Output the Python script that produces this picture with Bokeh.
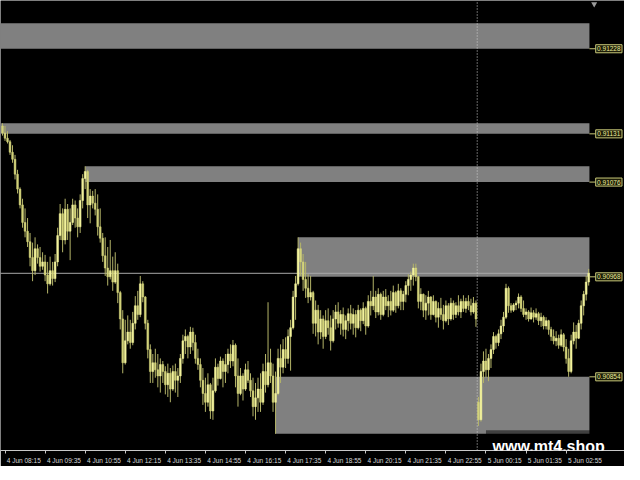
from datetime import datetime
import numpy as np
from bokeh.plotting import figure
from bokeh.models import Range1d, FixedTicker, Label, ColumnDataSource
from bokeh.core.properties import value
from bokeh.embed import file_html
from bokeh.resources import INLINE

# ---------------- data (M5 quotes) ----------------
first_bar = "4 Jun 08:10"
bar_minutes = 5

opens = [
    0.91140, 0.91132, 0.91126, 0.91122, 0.91110, 0.91102, 0.91085, 0.91068, 0.91050, 0.91030,
    0.91020, 0.91008, 0.90990, 0.90975, 0.91000, 0.90990, 0.90980, 0.90985, 0.90970, 0.90960,
    0.90975, 0.90966, 0.90985, 0.91015, 0.91040, 0.91010, 0.91045, 0.91020, 0.91030, 0.91050,
    0.91035, 0.91025, 0.91055, 0.91080, 0.91088, 0.91050, 0.91060, 0.91052, 0.91045, 0.91025,
    0.91012, 0.90992, 0.90978, 0.90968, 0.90975, 0.90962, 0.90975, 0.90950, 0.90920, 0.90870,
    0.90895, 0.90905, 0.90893, 0.90915, 0.90935, 0.90925, 0.90960, 0.90945, 0.90915, 0.90885,
    0.90860, 0.90870, 0.90862, 0.90855, 0.90868, 0.90860, 0.90845, 0.90858, 0.90840, 0.90860,
    0.90850, 0.90855, 0.90875, 0.90895, 0.90900, 0.90888, 0.90905, 0.90893, 0.90875, 0.90868,
    0.90850, 0.90835, 0.90825, 0.90845, 0.90815, 0.90838, 0.90865, 0.90852, 0.90872, 0.90860,
    0.90868, 0.90880, 0.90872, 0.90890, 0.90855, 0.90835, 0.90855, 0.90840, 0.90862, 0.90850,
    0.90838, 0.90820, 0.90830, 0.90840, 0.90825, 0.90860, 0.90845, 0.90870, 0.90855, 0.90825,
    0.90835, 0.90875, 0.90865, 0.90885, 0.90875, 0.90900, 0.90910, 0.90945, 0.90960, 0.91000,
    0.90985, 0.90965, 0.90955, 0.90945, 0.90950, 0.90915, 0.90930, 0.90905, 0.90920, 0.90900,
    0.90918, 0.90910, 0.90895, 0.90920, 0.90928, 0.90915, 0.90925, 0.90908, 0.90918, 0.90926,
    0.90915, 0.90925, 0.90910, 0.90930, 0.90918, 0.90932, 0.90912, 0.90940, 0.90935, 0.90945,
    0.90928, 0.90948, 0.90925, 0.90945, 0.90935, 0.90940, 0.90930, 0.90950, 0.90935, 0.90952,
    0.90940, 0.90948, 0.90958, 0.90965, 0.90970, 0.90978, 0.90968, 0.90940, 0.90948, 0.90930,
    0.90938, 0.90945, 0.90925, 0.90940, 0.90922, 0.90932, 0.90925, 0.90918, 0.90935, 0.90920,
    0.90938, 0.90925, 0.90935, 0.90928, 0.90940, 0.90932, 0.90940, 0.90935, 0.90928, 0.90938,
    0.90825, 0.90805, 0.90860, 0.90872, 0.90862, 0.90875, 0.90885, 0.90900, 0.90893, 0.90903,
    0.90912, 0.90922, 0.90955, 0.90935, 0.90930, 0.90936, 0.90938, 0.90945, 0.90932, 0.90925,
    0.90928, 0.90920, 0.90927, 0.90922, 0.90926, 0.90918, 0.90922, 0.90912, 0.90918, 0.90908,
    0.90900, 0.90895, 0.90898, 0.90890, 0.90902, 0.90888, 0.90875, 0.90860, 0.90895, 0.90905,
    0.90898, 0.90915, 0.90935, 0.90948, 0.90962,
]

highs = [
    0.91143, 0.91140, 0.91134, 0.91124, 0.91118, 0.91107, 0.91090, 0.91070, 0.91057, 0.91046,
    0.91035, 0.91018, 0.91007, 0.91013, 0.91005, 0.91002, 0.90996, 0.90993, 0.90985, 0.90991,
    0.90985, 0.90994, 0.91024, 0.91051, 0.91046, 0.91057, 0.91051, 0.91046, 0.91057, 0.91055,
    0.91046, 0.91062, 0.91085, 0.91094, 0.91090, 0.91068, 0.91066, 0.91068, 0.91062, 0.91046,
    0.91018, 0.91013, 0.91002, 0.91010, 0.90991, 0.90996, 0.90983, 0.90952, 0.90930, 0.90919,
    0.90924, 0.90919, 0.90928, 0.90946, 0.90952, 0.90969, 0.90963, 0.90946, 0.90919, 0.90891,
    0.90880, 0.90886, 0.90880, 0.90875, 0.90872, 0.90866, 0.90869, 0.90864, 0.90867, 0.90869,
    0.90864, 0.90880, 0.90902, 0.90908, 0.90902, 0.90911, 0.90910, 0.90902, 0.90886, 0.90875,
    0.90864, 0.90853, 0.90858, 0.90847, 0.90853, 0.90875, 0.90869, 0.90877, 0.90875, 0.90880,
    0.90886, 0.90891, 0.90896, 0.90892, 0.90875, 0.90864, 0.90858, 0.90869, 0.90872, 0.90858,
    0.90853, 0.90847, 0.90853, 0.90858, 0.90869, 0.90880, 0.90939, 0.90886, 0.90869, 0.90860,
    0.90886, 0.90891, 0.90897, 0.90899, 0.90908, 0.90919, 0.90952, 0.90969, 0.91013, 0.91007,
    0.90994, 0.90985, 0.90971, 0.90969, 0.90952, 0.90941, 0.90936, 0.90930, 0.90924, 0.90930,
    0.90932, 0.90924, 0.90930, 0.90936, 0.90939, 0.90930, 0.90933, 0.90924, 0.90932, 0.90936,
    0.90932, 0.90930, 0.90936, 0.90932, 0.90939, 0.90934, 0.90947, 0.90952, 0.90969, 0.90952,
    0.90955, 0.90950, 0.90952, 0.90954, 0.90947, 0.90952, 0.90958, 0.90952, 0.90960, 0.90955,
    0.90952, 0.90963, 0.90971, 0.90974, 0.90983, 0.90983, 0.90969, 0.90955, 0.90949, 0.90947,
    0.90952, 0.90946, 0.90947, 0.90941, 0.90939, 0.90944, 0.90936, 0.90941, 0.90938, 0.90944,
    0.90941, 0.90939, 0.90947, 0.90943, 0.90947, 0.90944, 0.90947, 0.90943, 0.90945, 0.90941,
    0.90831, 0.90869, 0.90883, 0.90886, 0.90880, 0.90891, 0.90905, 0.90902, 0.90908, 0.90919,
    0.90928, 0.90960, 0.90957, 0.90938, 0.90938, 0.90941, 0.90949, 0.90947, 0.90941, 0.90932,
    0.90930, 0.90933, 0.90930, 0.90932, 0.90928, 0.90927, 0.90924, 0.90922, 0.90919, 0.90911,
    0.90908, 0.90906, 0.90902, 0.90908, 0.90904, 0.90897, 0.90886, 0.90902, 0.90916, 0.90913,
    0.90919, 0.90941, 0.90952, 0.90969, 0.90977,
]

lows = [
    0.91129, 0.91123, 0.91120, 0.91107, 0.91098, 0.91079, 0.91063, 0.91046, 0.91024, 0.91013,
    0.91002, 0.90980, 0.90963, 0.90970, 0.90983, 0.90974, 0.90976, 0.90963, 0.90949, 0.90958,
    0.90958, 0.90962, 0.90980, 0.91010, 0.90996, 0.91005, 0.91010, 0.90987, 0.91027, 0.91024,
    0.91013, 0.91018, 0.91046, 0.91068, 0.91035, 0.91029, 0.91046, 0.91038, 0.91015, 0.91007,
    0.90985, 0.90969, 0.90958, 0.90965, 0.90952, 0.90960, 0.90938, 0.90908, 0.90858, 0.90868,
    0.90891, 0.90886, 0.90890, 0.90908, 0.90919, 0.90922, 0.90939, 0.90908, 0.90875, 0.90847,
    0.90847, 0.90853, 0.90842, 0.90836, 0.90847, 0.90834, 0.90831, 0.90825, 0.90838, 0.90836,
    0.90831, 0.90847, 0.90869, 0.90880, 0.90875, 0.90880, 0.90884, 0.90869, 0.90862, 0.90842,
    0.90822, 0.90814, 0.90820, 0.90806, 0.90805, 0.90836, 0.90844, 0.90851, 0.90842, 0.90847,
    0.90858, 0.90864, 0.90866, 0.90842, 0.90820, 0.90833, 0.90827, 0.90838, 0.90847, 0.90831,
    0.90809, 0.90805, 0.90814, 0.90814, 0.90822, 0.90836, 0.90842, 0.90847, 0.90814, 0.90789,
    0.90833, 0.90847, 0.90858, 0.90864, 0.90869, 0.90861, 0.90908, 0.90919, 0.90958, 0.90969,
    0.90952, 0.90944, 0.90938, 0.90941, 0.90903, 0.90900, 0.90891, 0.90897, 0.90886, 0.90897,
    0.90902, 0.90884, 0.90893, 0.90908, 0.90910, 0.90902, 0.90900, 0.90897, 0.90906, 0.90908,
    0.90902, 0.90899, 0.90908, 0.90906, 0.90914, 0.90902, 0.90910, 0.90924, 0.90930, 0.90921,
    0.90924, 0.90919, 0.90923, 0.90930, 0.90922, 0.90924, 0.90928, 0.90927, 0.90932, 0.90930,
    0.90930, 0.90939, 0.90947, 0.90952, 0.90958, 0.90963, 0.90932, 0.90930, 0.90922, 0.90919,
    0.90924, 0.90919, 0.90924, 0.90916, 0.90910, 0.90919, 0.90908, 0.90916, 0.90913, 0.90918,
    0.90919, 0.90921, 0.90924, 0.90921, 0.90928, 0.90927, 0.90930, 0.90924, 0.90926, 0.90911,
    0.90798, 0.90803, 0.90847, 0.90853, 0.90849, 0.90864, 0.90880, 0.90886, 0.90889, 0.90897,
    0.90905, 0.90920, 0.90927, 0.90927, 0.90928, 0.90930, 0.90932, 0.90928, 0.90922, 0.90919,
    0.90917, 0.90919, 0.90916, 0.90919, 0.90913, 0.90911, 0.90908, 0.90908, 0.90902, 0.90895,
    0.90891, 0.90889, 0.90886, 0.90888, 0.90883, 0.90869, 0.90854, 0.90858, 0.90891, 0.90886,
    0.90897, 0.90908, 0.90924, 0.90941, 0.90958,
]

closes = [
    0.91132, 0.91126, 0.91122, 0.91110, 0.91102, 0.91085, 0.91068, 0.91050, 0.91030, 0.91020,
    0.91008, 0.90990, 0.90975, 0.91000, 0.90990, 0.90980, 0.90985, 0.90970, 0.90960, 0.90975,
    0.90966, 0.90985, 0.91015, 0.91040, 0.91010, 0.91045, 0.91020, 0.91030, 0.91050, 0.91035,
    0.91025, 0.91055, 0.91080, 0.91088, 0.91050, 0.91060, 0.91052, 0.91045, 0.91025, 0.91012,
    0.90992, 0.90978, 0.90968, 0.90975, 0.90962, 0.90975, 0.90950, 0.90920, 0.90870, 0.90895,
    0.90905, 0.90893, 0.90915, 0.90935, 0.90925, 0.90960, 0.90945, 0.90915, 0.90885, 0.90860,
    0.90870, 0.90862, 0.90855, 0.90868, 0.90860, 0.90845, 0.90858, 0.90840, 0.90860, 0.90850,
    0.90855, 0.90875, 0.90895, 0.90900, 0.90888, 0.90905, 0.90893, 0.90875, 0.90868, 0.90850,
    0.90835, 0.90825, 0.90845, 0.90815, 0.90838, 0.90865, 0.90852, 0.90872, 0.90860, 0.90868,
    0.90880, 0.90872, 0.90890, 0.90855, 0.90835, 0.90855, 0.90840, 0.90862, 0.90850, 0.90838,
    0.90820, 0.90830, 0.90840, 0.90825, 0.90860, 0.90845, 0.90870, 0.90855, 0.90825, 0.90835,
    0.90875, 0.90865, 0.90885, 0.90875, 0.90900, 0.90910, 0.90945, 0.90960, 0.91000, 0.90985,
    0.90965, 0.90955, 0.90945, 0.90950, 0.90915, 0.90930, 0.90905, 0.90920, 0.90900, 0.90918,
    0.90910, 0.90895, 0.90920, 0.90928, 0.90915, 0.90925, 0.90908, 0.90918, 0.90926, 0.90915,
    0.90925, 0.90910, 0.90930, 0.90918, 0.90932, 0.90912, 0.90940, 0.90935, 0.90945, 0.90928,
    0.90948, 0.90925, 0.90945, 0.90935, 0.90940, 0.90930, 0.90950, 0.90935, 0.90952, 0.90940,
    0.90948, 0.90958, 0.90965, 0.90970, 0.90978, 0.90968, 0.90940, 0.90948, 0.90930, 0.90938,
    0.90945, 0.90925, 0.90940, 0.90922, 0.90932, 0.90925, 0.90918, 0.90935, 0.90920, 0.90938,
    0.90925, 0.90935, 0.90928, 0.90940, 0.90932, 0.90940, 0.90935, 0.90928, 0.90938, 0.90920,
    0.90805, 0.90860, 0.90872, 0.90862, 0.90875, 0.90885, 0.90900, 0.90893, 0.90903, 0.90912,
    0.90922, 0.90955, 0.90935, 0.90930, 0.90936, 0.90938, 0.90945, 0.90932, 0.90925, 0.90928,
    0.90920, 0.90927, 0.90922, 0.90926, 0.90918, 0.90922, 0.90912, 0.90918, 0.90908, 0.90900,
    0.90895, 0.90898, 0.90890, 0.90902, 0.90888, 0.90875, 0.90860, 0.90895, 0.90905, 0.90898,
    0.90915, 0.90935, 0.90948, 0.90962, 0.90972,
]

tick_labels = [
    "4 Jun 08:15", "4 Jun 09:35", "4 Jun 10:55", "4 Jun 12:15", "4 Jun 13:35",
    "4 Jun 14:55", "4 Jun 16:15", "4 Jun 17:35", "4 Jun 18:55", "4 Jun 20:15",
    "4 Jun 21:35", "4 Jun 22:55", "5 Jun 00:15", "5 Jun 01:35", "5 Jun 02:55",
]

# supply / demand zones (gray rectangles) and their price tags
zone_start = ["4 Jun 06:00", "4 Jun 06:00", "4 Jun 10:55", "4 Jun 18:00", "4 Jun 17:15"]
zone_top = [0.91257, 0.91143, 0.91094, 0.91013, 0.90854]
zone_bottom = [0.91228, 0.91131, 0.91076, 0.90968, 0.90789]
zone_level = [0.91228, 0.91131, 0.91076, 0.90968, 0.90854]

separator_time = "5 Jun 00:00"
watermark = "www.mt4.shop"

y_min, y_max = 0.90770, 0.91283

# ---------------- helpers ----------------
def to_idx(s):
    t = datetime.strptime(s + " 2024", "%d %b %H:%M %Y")
    t0 = datetime.strptime(first_bar + " 2024", "%d %b %H:%M %Y")
    return (t - t0).total_seconds() / 60.0 / bar_minutes

n = len(closes)
x = np.arange(n)
o = np.array(opens); h = np.array(highs); l = np.array(lows); c = np.array(closes)
up = c >= o
last = n - 1

FONT = "Liberation Sans"
BG = "#000000"

p = figure(frame_width=624, frame_height=450,
           x_range=Range1d(-0.8, last + 14.3), y_range=Range1d(y_min, y_max),
           output_backend="svg", toolbar_location=None,
           background_fill_color=BG, border_fill_color=BG,
           outline_line_color=None, y_axis_location=None,
           min_border_left=0, min_border_right=0, min_border_top=0, min_border_bottom=0)
p.grid.visible = False

# zones
zone_end = last + 0.3
zs = [max(to_idx(s), -5.0) for s in zone_start]
p.quad(left=zs, right=[zone_end] * len(zs), top=zone_top, bottom=zone_bottom,
       fill_color="#808080", line_color=None)

# bid line
p.segment(x0=[-5], y0=[c[-1]], x1=[zone_end], y1=[c[-1]], line_color="#a8a8a8", line_width=1)

# day separator
sep = to_idx(separator_time) - 0.5
p.segment(x0=[sep], y0=[y_min], x1=[sep], y1=[y_max], line_color="#d0d0d0",
          line_width=1, line_dash="1 2")

# candles
src = ColumnDataSource(dict(x=x, o=o, h=h, l=l, c=c))
p.segment(x0="x", y0="h", x1="x", y1="l", source=src, line_color="#b4b468", line_width=1)
src_up = ColumnDataSource(dict(x=x[up], o=o[up], c=c[up]))
src_dn = ColumnDataSource(dict(x=x[~up], o=o[~up], c=c[~up]))
p.vbar(x="x", width=0.72, top="c", bottom="o", source=src_up,
       fill_color="#f2f29c", line_color="#f2f29c", line_width=0.5)
p.vbar(x="x", width=0.72, top="o", bottom="c", source=src_dn,
       fill_color="#d2d27a", line_color="#d2d27a", line_width=0.5)

# price tags on the right
lab_l = last + 2.8
lab_r = last + 13.3
box_h = 0.000092
p.segment(x0=[zone_end] * 5, y0=zone_level, x1=[lab_l] * 5, y1=zone_level,
          line_color="#c8c878", line_width=1)
p.quad(left=[lab_l] * 5, right=[lab_r] * 5,
       top=[v + box_h / 2 for v in zone_level], bottom=[v - box_h / 2 for v in zone_level],
       fill_color="#1c1c08", line_color="#c8c878", line_width=1)
p.text(x=[(lab_l + lab_r) / 2] * 5, y=zone_level, text=[f"{v:.5f}" for v in zone_level],
       text_align="center", text_baseline="middle", text_font=value(FONT),
       text_font_size="6.5px", text_color="#ecec9c")

# chart shift marker
p.scatter(x=[last + 2.2], y=[y_max - 0.00004], marker="inverted_triangle", size=6,
          fill_color="#9a9a9a", line_color=None)

# watermark with translucent dark box
p.quad(left=[to_idx(separator_time) + 3], right=[last + 20], top=[y_min + 0.00023], bottom=[y_min - 0.001],
       fill_color="#000000", fill_alpha=0.5, line_color=None)
p.add_layout(Label(x=to_idx(separator_time) + 5.6, y=y_min + 0.00005, text=watermark,
                   text_font=FONT, text_font_style="bold", text_font_size="16px",
                   text_color="#ffffff", text_baseline="alphabetic"))

# time axis
tick_idx = [to_idx(s) for s in tick_labels]
label_off = 7.5
centers = [t + label_off for t in tick_idx]
ax = p.xaxis[0]
ax.ticker = FixedTicker(ticks=centers, minor_ticks=tick_idx)
ax.major_label_overrides = {cv: lab for cv, lab in zip(centers, tick_labels)}
ax.axis_line_color = "#c8c8c8"
ax.major_tick_line_color = None
ax.major_tick_out = 0
ax.major_tick_in = 0
ax.minor_tick_line_color = "#c8c8c8"
ax.minor_tick_out = 3
ax.minor_tick_in = 0
ax.major_label_standoff = 3
ax.axis_label_standoff = 0
ax.major_label_text_font = FONT
ax.major_label_text_font_size = "6.5px"
ax.major_label_text_color = "#d8d8d8"

open("out.html", "w").write(file_html(p, INLINE))
